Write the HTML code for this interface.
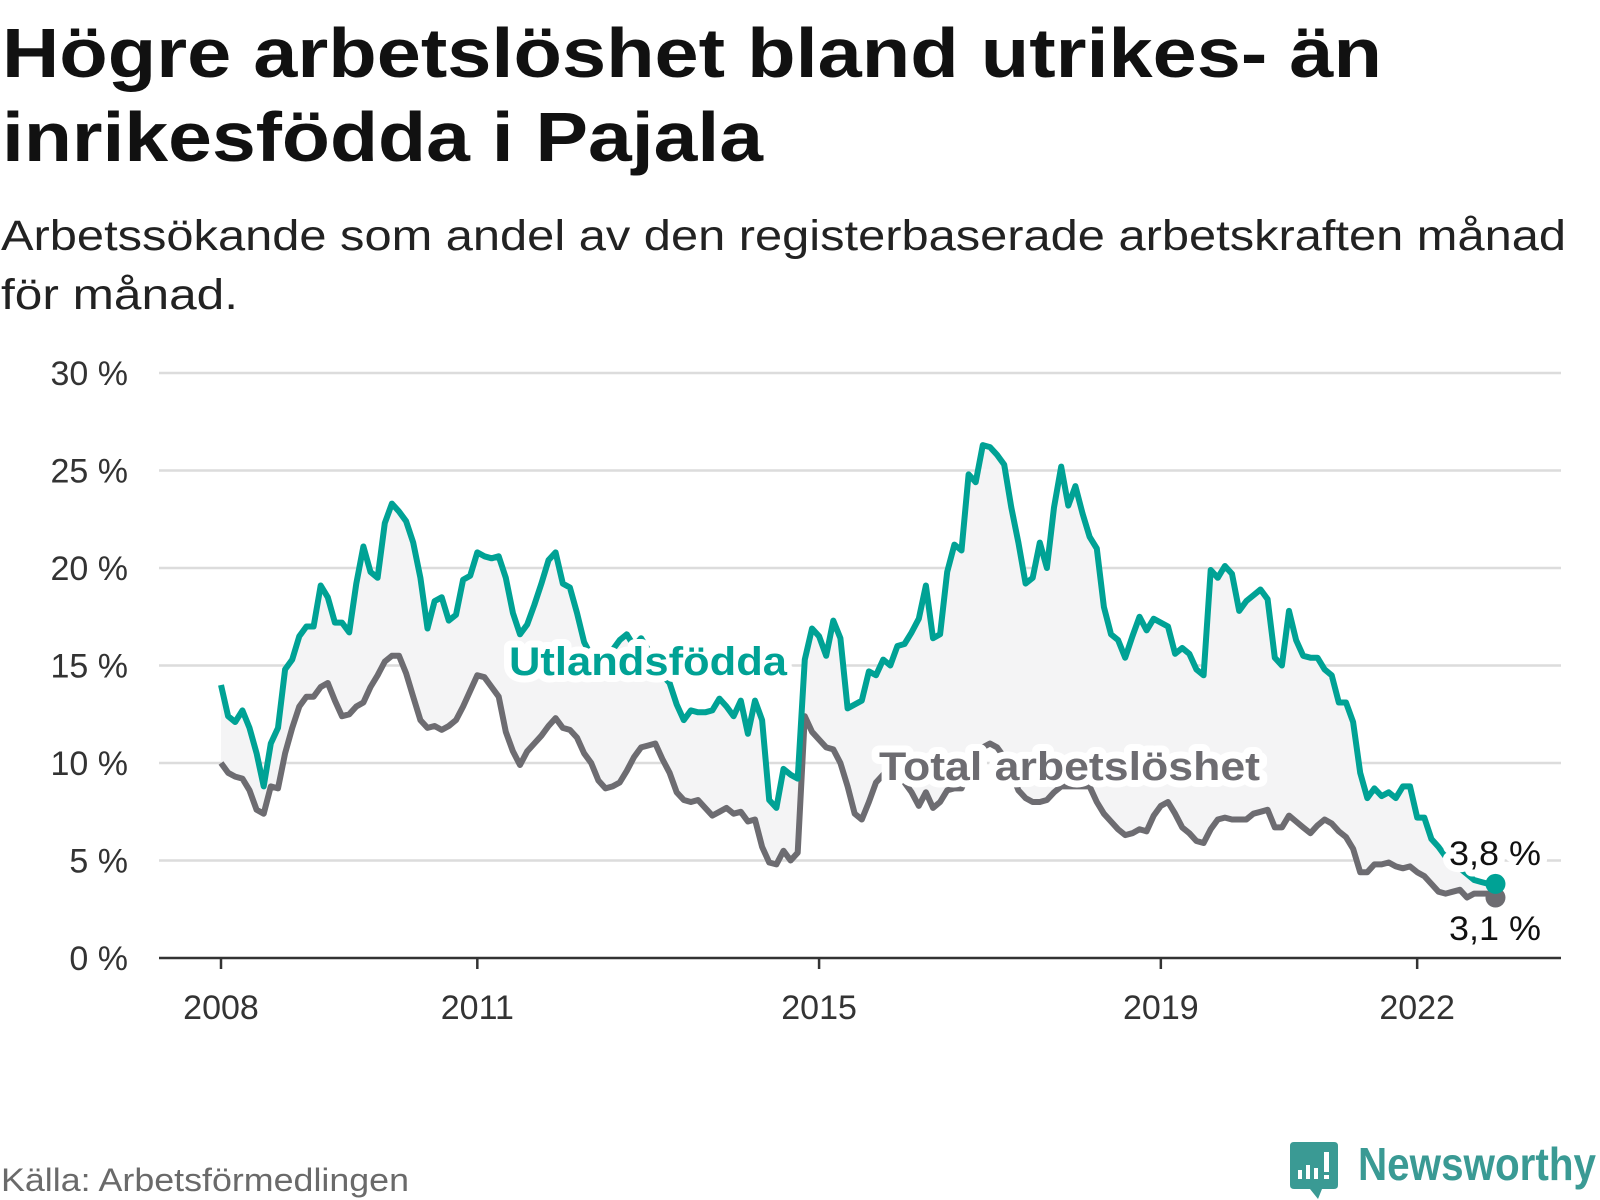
<!DOCTYPE html>
<html><head><meta charset="utf-8"><style>
html,body{margin:0;padding:0;background:#fff}
svg{display:block}
text{font-family:"Liberation Sans",sans-serif}
</style></head><body>
<svg id="chart" width="1600" height="1200" viewBox="0 0 1600 1200" xmlns="http://www.w3.org/2000/svg">
<text x="2" y="77" font-size="70" font-weight="bold" fill="#111" textLength="1380" lengthAdjust="spacingAndGlyphs">Högre arbetslöshet bland utrikes- än</text>
<text x="2" y="161" font-size="70" font-weight="bold" fill="#111" textLength="761" lengthAdjust="spacingAndGlyphs">inrikesfödda i Pajala</text>
<text x="1" y="250" font-size="43" fill="#222" textLength="1565" lengthAdjust="spacingAndGlyphs">Arbetssökande som andel av den registerbaserade arbetskraften månad</text>
<text x="1" y="309" font-size="43" fill="#222" textLength="237" lengthAdjust="spacingAndGlyphs">för månad.</text>
<g id="grid"></g>
<g id="yticks"></g>
<path id="band" fill="#f4f4f5"/>
<path id="lineTotal" fill="none" stroke="#6d6c71" stroke-width="6" stroke-linejoin="round"/>
<path id="lineForeign" fill="none" stroke="#00a295" stroke-width="6" stroke-linejoin="round"/>
<g id="xaxis"></g>
<g id="labels"></g>
<text x="1" y="1191" font-size="32" fill="#6a6a6a" textLength="408" lengthAdjust="spacingAndGlyphs">Källa: Arbetsförmedlingen</text>
<g>
<path d="M1294 1142 H1334 Q1338 1142 1338 1146 V1185 Q1338 1189 1334 1189 H1322 L1318 1199 L1310 1189 H1294 Q1290 1189 1290 1185 V1146 Q1290 1142 1294 1142 Z" fill="#3a9a94"/>
<rect x="1298" y="1170" width="4" height="9" fill="#fff"/><rect x="1306" y="1165" width="4" height="14" fill="#fff"/><rect x="1314" y="1168" width="4" height="11" fill="#fff"/><rect x="1324" y="1152" width="5" height="20" fill="#fff"/><rect x="1324" y="1175" width="5" height="4" fill="#fff"/>
<text x="1358" y="1180" font-size="46" font-weight="bold" fill="#3a9a94" textLength="238" lengthAdjust="spacingAndGlyphs">Newsworthy</text>
</g>
</svg>
<script>
const yTickValues = [0,5,10,15,20,25,30];
const yTickLabels = ["0 %","5 %","10 %","15 %","20 %","25 %","30 %"];
const xTickYears = [2008,2011,2015,2019,2022];
const startYear = 2008;
const foreign = [14.0,12.4,12.1,12.7,11.8,10.5,8.8,11.0,11.8,14.8,15.3,16.5,17.0,17.0,19.1,18.5,17.2,17.2,16.7,19.2,21.1,19.8,19.5,22.3,23.3,22.9,22.4,21.3,19.5,16.9,18.3,18.5,17.3,17.6,19.4,19.6,20.8,20.6,20.5,20.6,19.5,17.7,16.6,17.1,18.1,19.2,20.4,20.8,19.2,19.0,17.7,16.2,15.5,15.0,15.2,15.8,16.3,16.6,16.0,16.4,15.8,15.3,14.5,14.1,13.0,12.2,12.7,12.6,12.6,12.7,13.3,12.9,12.4,13.2,11.5,13.2,12.2,8.1,7.7,9.7,9.4,9.2,15.3,16.9,16.5,15.5,17.3,16.4,12.8,13.0,13.2,14.7,14.5,15.3,15.0,16.0,16.1,16.7,17.4,19.1,16.4,16.6,19.8,21.2,20.9,24.8,24.4,26.3,26.2,25.8,25.3,23.1,21.3,19.2,19.5,21.3,20.0,23.1,25.2,23.2,24.2,22.8,21.6,21.0,18.0,16.6,16.3,15.4,16.5,17.5,16.8,17.4,17.2,17.0,15.6,15.9,15.6,14.8,14.5,19.9,19.5,20.1,19.7,17.8,18.3,18.6,18.9,18.4,15.4,15.0,17.8,16.3,15.5,15.4,15.4,14.8,14.5,13.1,13.1,12.1,9.5,8.2,8.7,8.3,8.5,8.2,8.8,8.8,7.2,7.2,6.1,5.7,5.2,5.0,4.6,4.3,4.0,3.9,3.8,3.8];
const total = [10.0,9.5,9.3,9.2,8.6,7.6,7.4,8.8,8.7,10.5,11.8,12.9,13.4,13.4,13.9,14.1,13.2,12.4,12.5,12.9,13.1,13.9,14.5,15.2,15.5,15.5,14.6,13.4,12.2,11.8,11.9,11.7,11.9,12.2,12.9,13.7,14.5,14.4,13.9,13.4,11.6,10.6,9.9,10.6,11.0,11.4,11.9,12.3,11.8,11.7,11.3,10.5,10.0,9.1,8.7,8.8,9.0,9.6,10.3,10.8,10.9,11.0,10.2,9.5,8.5,8.1,8.0,8.1,7.7,7.3,7.5,7.7,7.4,7.5,7.0,7.1,5.7,4.9,4.8,5.5,5.0,5.4,12.4,11.6,11.2,10.8,10.7,10.0,8.8,7.4,7.1,8.0,9.0,9.4,9.5,9.3,9.0,8.5,7.8,8.5,7.7,8.0,8.6,8.7,8.7,9.5,10.2,10.8,11.0,10.8,10.3,9.5,8.6,8.2,8.0,8.0,8.1,8.5,8.8,8.8,8.8,8.8,8.8,8.0,7.4,7.0,6.6,6.3,6.4,6.6,6.5,7.3,7.8,8.0,7.4,6.7,6.4,6.0,5.9,6.6,7.1,7.2,7.1,7.1,7.1,7.4,7.5,7.6,6.7,6.7,7.3,7.0,6.7,6.4,6.8,7.1,6.9,6.5,6.2,5.6,4.4,4.4,4.8,4.8,4.9,4.7,4.6,4.7,4.4,4.2,3.8,3.4,3.3,3.4,3.5,3.1,3.3,3.3,3.3,3.1];
const endLabelForeign = "3,8 %";
const endLabelTotal = "3,1 %";
const seriesNames = ["Utlandsfödda","Total arbetslöshet"];

const NS = "http://www.w3.org/2000/svg";
const X0 = 221, MONTH = 7.12, Y0 = 958, PER = 19.5, XL = 159, XR = 1561;
const xs = i => X0 + i * MONTH;
const xYear = yr => X0 + (yr - startYear) * 12 * MONTH;
const ys = v => Y0 - v * PER;
function mk(tag, attrs, parent, txt){const e=document.createElementNS(NS,tag);for(const k in attrs)e.setAttribute(k,attrs[k]);if(txt!=null)e.textContent=txt;parent.appendChild(e);return e;}

const grid = document.getElementById('grid'), yt = document.getElementById('yticks');
yTickValues.forEach((v,k)=>{
  if(v>0){const l=mk('line',{x1:XL,x2:XR,y1:ys(v),y2:ys(v),stroke:'#dcdcdc','stroke-width':2.5},grid);
  
  }
  const t=mk('text',{x:128,y:ys(v)+12,'text-anchor':'end','font-size':34,fill:'#333'},yt,yTickLabels[k]);
  
  
});
const xa = document.getElementById('xaxis');
const ax = mk('line',{x1:XL,x2:XR,y1:Y0,y2:Y0,stroke:'#333','stroke-width':2.5},xa);


xTickYears.forEach(yr=>{
  const tk=mk('line',{x1:xYear(yr),x2:xYear(yr),y1:Y0,y2:Y0+11,stroke:'#333','stroke-width':2.5},xa);
  
  
  const t=mk('text',{x:xYear(yr),y:1019,'text-anchor':'middle','font-size':34,fill:'#333'},xa,String(yr));
  
  
});
const pts = a => a.map((v,i)=>xs(i).toFixed(1)+','+ys(v).toFixed(1));
document.getElementById('lineForeign').setAttribute('d','M'+pts(foreign).join('L'));
document.getElementById('lineTotal').setAttribute('d','M'+pts(total).join('L'));
document.getElementById('band').setAttribute('d','M'+pts(foreign).join('L')+'L'+pts(total).reverse().join('L')+'Z');

const lb = document.getElementById('labels');
function label(txt,x,y,col,size,w,name,bold){
  const h=mk('text',{x:x,y:y,'font-size':size,'font-weight':bold?'bold':'normal',fill:'#fff',stroke:'#fff','stroke-width':14,'stroke-linejoin':'round',textLength:w,lengthAdjust:'spacingAndGlyphs'},lb,txt);
  
  
  const t=mk('text',{x:x,y:y,'font-size':size,'font-weight':bold?'bold':'normal',fill:col,textLength:w,lengthAdjust:'spacingAndGlyphs'},lb,txt);
  
  
}
label(seriesNames[0],509,675,'#00a295',40,278,'series-label-foreign',true);
label(seriesNames[1],879,780,'#6d6c71',40,381,'series-label-total',true);
const last = foreign.length-1;
label(endLabelForeign,1449,865,'#111',34,92,'end-value-foreign',false);
label(endLabelTotal,1449,940,'#111',34,92,'end-value-total',false);
const d2=mk('circle',{cx:xs(last),cy:ys(total[last]),r:10,fill:'#6d6c71'},lb);


const d1=mk('circle',{cx:xs(last),cy:ys(foreign[last]),r:10,fill:'#00a295'},lb);


</script>
</body></html>
